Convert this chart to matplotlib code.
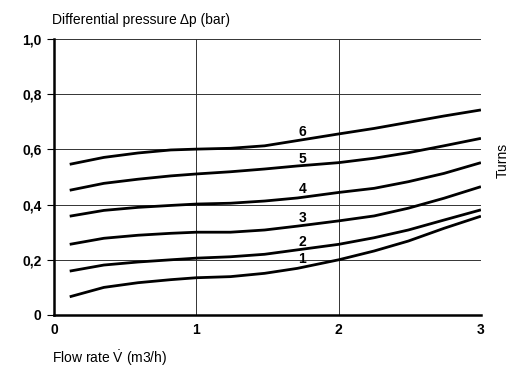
import numpy as np
import matplotlib.pyplot as plt

plt.rcParams['font.family'] = ['Liberation Sans', 'DejaVu Sans']
plt.rcParams['mathtext.fontset'] = 'custom'
plt.rcParams['mathtext.rm'] = 'Liberation Sans'
plt.rcParams['mathtext.it'] = 'Liberation Sans'

# flow rate (m3/h) and pressure drop (bar) per number of turns
flow = [0.11, 0.35, 0.59, 0.82, 1.0, 1.24, 1.48, 1.71, 2.0, 2.25, 2.49, 2.74, 3.0]
turn1 = [0.066, 0.100, 0.117, 0.128, 0.135, 0.139, 0.151, 0.169, 0.200, 0.232, 0.268, 0.314, 0.358]
turn2 = [0.159, 0.181, 0.192, 0.200, 0.206, 0.211, 0.220, 0.236, 0.256, 0.280, 0.308, 0.344, 0.381]
turn3 = [0.256, 0.278, 0.289, 0.296, 0.300, 0.300, 0.308, 0.322, 0.341, 0.359, 0.387, 0.423, 0.465]
turn4 = [0.358, 0.379, 0.390, 0.397, 0.402, 0.405, 0.413, 0.424, 0.444, 0.459, 0.483, 0.513, 0.552]
turn5 = [0.452, 0.477, 0.492, 0.504, 0.511, 0.519, 0.529, 0.540, 0.552, 0.568, 0.588, 0.613, 0.640]
turn6 = [0.546, 0.571, 0.587, 0.598, 0.601, 0.604, 0.613, 0.632, 0.656, 0.676, 0.698, 0.721, 0.743]
curves = [turn1, turn2, turn3, turn4, turn5, turn6]
turn_labels = ['1', '2', '3', '4', '5', '6']
label_y = [0.203, 0.263, 0.350, 0.455, 0.565, 0.662]
label_x = 1.745

xticks = [0, 1, 2, 3]
xticklabels = ['0', '1', '2', '3']
yticks = [0, 0.2, 0.4, 0.6, 0.8, 1.0]
yticklabels = ['0', '0,2', '0,4', '0,6', '0,8', '1,0']

fig = plt.figure(figsize=(5.1, 3.75), dpi=100)
ax = fig.add_axes([0.106, 0.16, 0.837, 0.736])

for ys in curves:
    ax.plot(flow, ys, color='black', lw=2.0, solid_capstyle='butt', solid_joinstyle='round')

for lab, ly in zip(turn_labels, label_y):
    ax.text(label_x, ly, lab, fontsize=10, fontweight='bold', ha='center', va='center')

ax.set_xlim(0, 3)
ax.set_ylim(0, 1.0)
ax.set_xticks(xticks)
ax.set_xticklabels(xticklabels)
ax.set_yticks(yticks)
ax.set_yticklabels(yticklabels)
ax.grid(True, color='#333333', lw=0.7)

ax.spines['top'].set_visible(False)
ax.spines['right'].set_visible(False)
ax.spines['left'].set_linewidth(1.8)
ax.spines['bottom'].set_linewidth(1.8)

ax.tick_params(axis='y', direction='out', length=5, width=0.8, labelsize=10, pad=4)
ax.tick_params(axis='x', direction='out', length=0, labelsize=10, pad=6)
for t in ax.get_xticklabels() + ax.get_yticklabels():
    t.set_fontweight('bold')

fig.text(0.102, 0.947, 'Differential pressure \u0394p (bar)', fontsize=10, va='center', ha='left')
fig.text(0.102, 0.045, r'Flow rate $\dot{\mathrm{V}}$ (m3/h)', fontsize=10, va='center', ha='left')
fig.text(0.985, 0.573, 'Turns', fontsize=10, rotation=90, va='center', ha='center')

fig.savefig('out.png', dpi=100)
